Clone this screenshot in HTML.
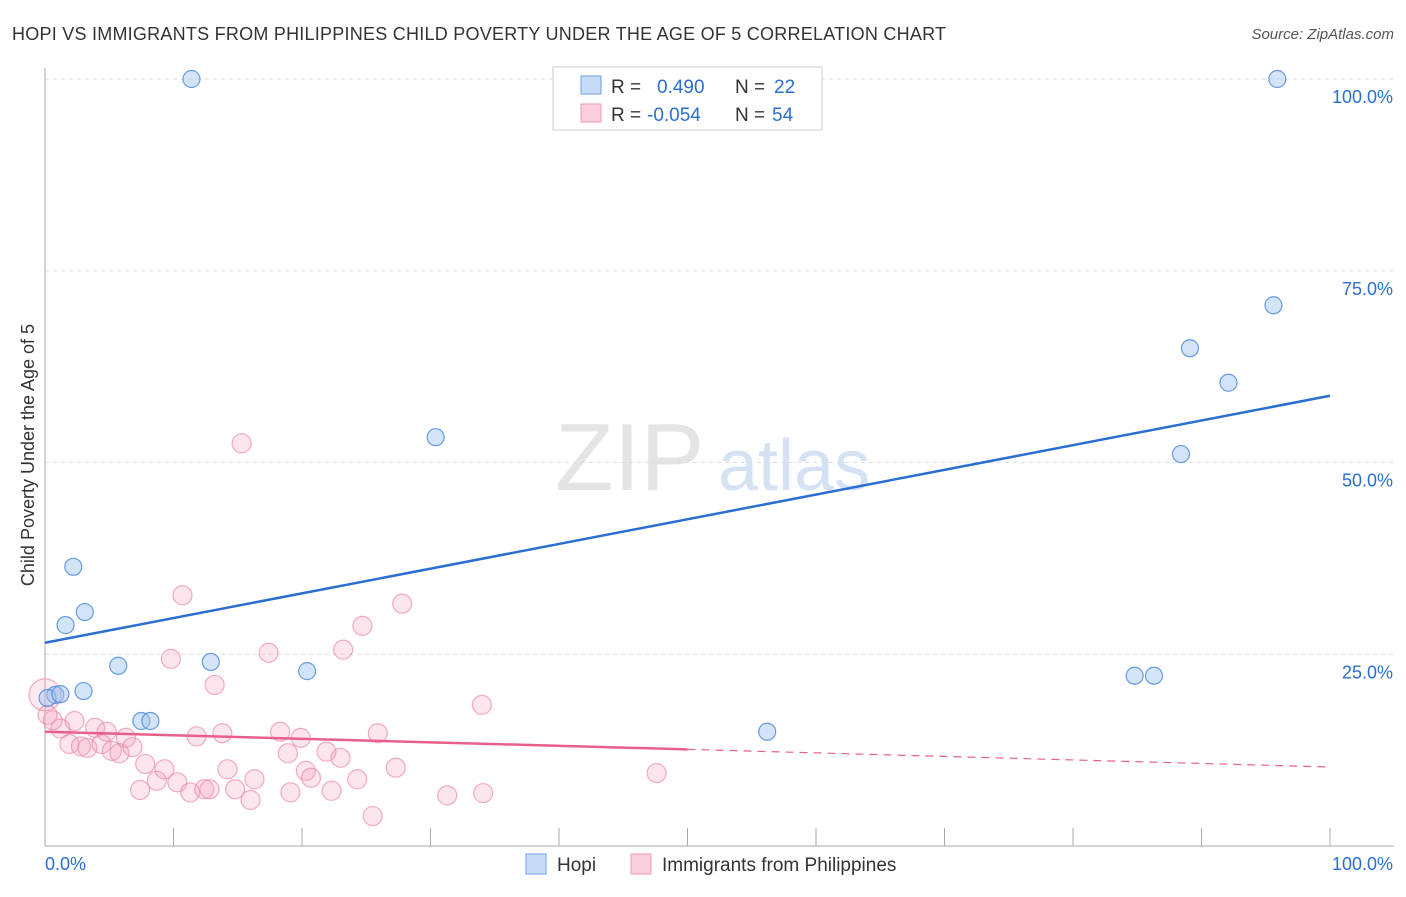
<!DOCTYPE html>
<html><head><meta charset="utf-8"><style>
body{margin:0;background:#fff;font-family:"Liberation Sans",sans-serif;}
svg text{font-family:"Liberation Sans",sans-serif;}
</style></head><body>
<svg id="chart" width="1406" height="892">
<text x="12" y="40" font-size="18" fill="#333" textLength="934" lengthAdjust="spacing">HOPI VS IMMIGRANTS FROM PHILIPPINES CHILD POVERTY UNDER THE AGE OF 5 CORRELATION CHART</text>
<text x="1394" y="39" font-size="15" fill="#555" text-anchor="end" font-style="italic">Source: ZipAtlas.com</text>
<text x="555" y="490" font-size="96" fill="#e4e4e4" font-family="Liberation Serif">ZIP</text>
<text x="718" y="490" font-size="72" fill="#d4e2f4">atlas</text>
<text transform="translate(34,455) rotate(-90)" font-size="18" fill="#333" text-anchor="middle">Child Poverty Under the Age of 5</text>
<g id="grid"></g><g id="axes"></g><g id="pts"></g><g id="lines"></g>
<g>
<rect x="553" y="67" width="269" height="63" fill="#fff" stroke="#ccc"/>
<rect x="581" y="76" width="20" height="18" fill="#c6dcf7" stroke="#6fa0e0"/>
<rect x="581" y="104" width="20" height="18" fill="#fbd0dc" stroke="#ef99b2"/>
<text y="93" font-size="19" fill="#333"><tspan x="611">R =</tspan><tspan x="657" fill="#2a6fd0">0.490</tspan><tspan x="735">N =</tspan><tspan x="774" fill="#2a6fd0">22</tspan></text>
<text y="121" font-size="19" fill="#333"><tspan x="611">R =</tspan><tspan x="647" fill="#2a6fd0">-0.054</tspan><tspan x="735">N =</tspan><tspan x="772" fill="#2a6fd0">54</tspan></text>
</g>
<g>
<rect x="526" y="854" width="20" height="20" fill="#c6dcf7" stroke="#6fa0e0"/>
<text x="557" y="871" font-size="19" fill="#333">Hopi</text>
<rect x="631" y="854" width="20" height="20" fill="#fbd0dc" stroke="#ef99b2"/>
<text x="662" y="871" font-size="19" fill="#333">Immigrants from Philippines</text>
</g>
</svg>
<script>
const yTicks=[25,50,75,100];
const yTickLabels=["25.0%","50.0%","75.0%","100.0%"];
const hopiX=[11.4,95.9,2.2,3.1,1.6,5.7,3.0,12.9,20.4,30.4,88.4,89.1,92.1,95.6,84.8,86.3,56.2,7.5,8.2,0.8,0.2,1.2];
const hopiY=[100,100,36.4,30.5,28.8,23.5,20.2,24.0,22.8,53.3,51.1,64.9,60.4,70.5,22.2,22.2,14.9,16.3,16.3,19.7,19.3,19.8];
const phX=[10.7,27.8,24.7,23.2,17.4,9.8,13.2,34.0,2.3,1.2,3.9,4.8,6.3,11.8,13.8,18.3,19.9,25.9,1.9,2.8,3.3,4.4,5.2,5.8,6.8,18.9,21.9,23.0,7.8,9.3,14.2,20.3,20.7,27.3,8.7,10.3,16.3,24.3,7.4,11.3,12.4,12.8,14.8,16.0,19.1,22.3,25.5,31.3,34.1,15.3,47.6,0.6,0.0,0.2];
const phY=[32.7,31.6,28.7,25.6,25.2,24.4,21.0,18.4,16.3,15.3,15.4,14.9,14.1,14.3,14.7,14.9,14.1,14.7,13.3,13.0,12.8,13.3,12.4,12.1,12.9,12.1,12.3,11.5,10.7,10.0,10.0,9.8,8.9,10.2,8.5,8.3,8.7,8.7,7.3,7.0,7.4,7.4,7.4,6.0,7.0,7.2,3.9,6.6,6.9,52.5,9.5,16.4,19.7,17.1];
const hopiTrend=[26.5,58.7];
const phTrend=[14.9,10.3];
const X=v=>45+v*12.85, Y=v=>846-v*7.67;
const NS="http://www.w3.org/2000/svg";
function mk(p,t,a){const e=document.createElementNS(NS,t);for(const k in a)e.setAttribute(k,a[k]);document.getElementById(p).appendChild(e);return e;}
yTicks.forEach((t,i)=>{
 const g=mk('grid','line',{x1:45,x2:1394,y1:Y(t),y2:Y(t),stroke:'#ddd','stroke-dasharray':'4,4'});
 
 
 const l=mk('grid','text',{x:1393,y:Y(t)+24,'font-size':18,fill:'#2a6fd0','text-anchor':'end'});
 l.textContent=yTickLabels[i];
 
 
});
mk('axes','line',{x1:45,x2:45,y1:68,y2:846,stroke:'#aaa'});
mk('axes','line',{x1:45,x2:1394,y1:846,y2:846,stroke:'#aaa'});
for(let i=1;i<=10;i++){mk('axes','line',{x1:X(i*10),x2:X(i*10),y1:828,y2:846,stroke:'#aaa'});}
const x0=mk('axes','text',{x:45,y:870,'font-size':18,fill:'#2a6fd0'});x0.textContent='0.0%';


const x1=mk('axes','text',{x:1393,y:870,'font-size':18,fill:'#2a6fd0','text-anchor':'end'});x1.textContent='100.0%';


phX.forEach((v,i)=>{
 const big=(i==52);
 const c=mk('pts','circle',{cx:X(v),cy:Y(phY[i]),r:big?16:9.5,fill:big?'rgba(246,160,186,0.22)':'rgba(246,160,186,0.28)',stroke:'rgba(236,130,165,0.65)','stroke-width':1.2});
 
 
});
hopiX.forEach((v,i)=>{
 const c=mk('pts','circle',{cx:X(v),cy:Y(hopiY[i]),r:8.5,fill:'rgba(160,196,240,0.45)',stroke:'rgba(80,140,220,0.85)','stroke-width':1.2});
 
 
});
const bl=mk('lines','line',{x1:X(0),y1:Y(hopiTrend[0]),x2:X(100),y2:Y(hopiTrend[1]),stroke:'#2a6fd0','stroke-width':2.5});


const pm=phTrend[0]+(phTrend[1]-phTrend[0])*0.5;
const pl=mk('lines','line',{x1:X(0),y1:Y(phTrend[0]),x2:X(50),y2:Y(pm),stroke:'#e8608a','stroke-width':2.5});


const pd=mk('lines','line',{x1:X(50),y1:Y(pm),x2:X(100),y2:Y(phTrend[1]),stroke:'#e8608a','stroke-width':1.2,'stroke-dasharray':'8,6'});


</script>
</body></html>
